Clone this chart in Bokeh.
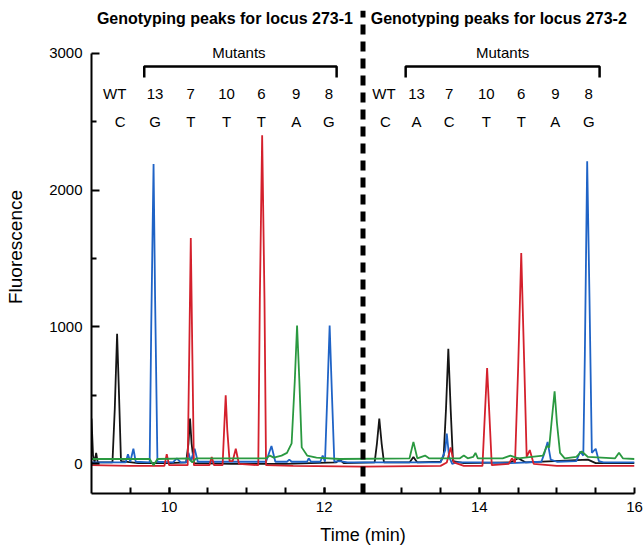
from bokeh.plotting import figure
from bokeh.models import FixedTicker
from bokeh.core.properties import value
from bokeh.embed import file_html
from bokeh.resources import INLINE

# ---------------- data ----------------
black_t = [9.00, 9.02, 9.04, 9.06, 9.08, 9.27, 9.30, 9.33, 9.355, 9.38, 9.6, 10.0, 10.22, 10.25, 10.27,
           10.29, 10.32, 10.8, 11.5, 12.15, 12.2, 12.25, 12.65, 12.68, 12.71, 12.74, 12.77, 13.1, 13.15,
           13.2, 13.5, 13.54, 13.57, 13.6, 13.63, 13.66, 13.8, 14.4, 14.5, 14.6, 15.4, 15.5, 16.0]
black_v = [330, 60, 10, 80, 10, 10, 400, 950, 500, 20, 5, 5, 10, 150, 330,
           150, 5, 0, 0, 10, 30, 5, 10, 150, 330, 150, 10, 10, 50,
           10, 15, 60, 400, 840, 400, 20, 5, 10, 40, 10, 30, 5, 5]

blue_t = [9.0, 9.44, 9.47, 9.5, 9.54, 9.57, 9.75, 9.77, 9.8, 9.82, 9.85, 10.05, 10.1, 10.15, 10.22,
          10.25, 10.28, 10.33, 10.37, 11.25, 11.32, 11.37, 11.52, 11.55, 11.58, 11.78, 11.8, 11.83,
          11.95, 11.98, 12.01, 12.04, 12.07, 12.1, 12.13, 12.2, 12.3, 13.5, 13.56, 13.58, 13.61, 13.65,
          13.7, 14.0, 14.4, 14.8, 14.84, 14.88, 14.92, 15.0, 15.25, 15.3, 15.34, 15.36, 15.39, 15.42,
          15.45, 15.5, 15.54, 15.6, 16.0]
blue_v = [10, 10, 70, 15, 110, 15, 10, 1000, 2190, 1200, 15, 10, 40, 10, 10,
          80, 20, 110, 15, 15, 130, 15, 15, 30, 15, 15, 40, 15,
          15, 60, 15, 500, 1010, 500, 15, 20, 10, 10, 100, 220, 50, 0,
          10, 10, 5, 15, 80, 160, 30, 15, 20, 90, 60, 800, 2210, 1200,
          80, 110, 20, 10, 10]

red_t = [9.0, 9.5, 9.94, 9.97, 10.0, 10.24, 10.26, 10.28, 10.30, 10.32, 10.52, 10.55, 10.58, 10.69,
         10.71, 10.73, 10.75, 10.78, 10.82, 10.86, 10.9, 11.15, 11.17, 11.2, 11.23, 11.25, 11.6, 12.5,
         13.5, 13.58, 13.63, 13.67, 13.8, 14.04, 14.07, 14.1, 14.13, 14.16, 14.38, 14.42, 14.46, 14.5,
         14.54, 14.58, 14.61, 14.65, 14.7, 15.0, 16.0]
red_v = [-10, -15, -15, 70, -10, -10, 800, 1650, 800, -10, -10, 50, -10, -10,
         250, 500, 250, 20, 20, 110, 0, -10, 1200, 2400, 1200, -10, -15, -20,
         -15, 10, 120, 10, -15, -15, 350, 700, 350, -10, 0, 40, 10, 700,
         1540, 700, 50, 100, 0, -15, -15]

green_t = [9.0, 9.75, 9.8, 9.85, 10.25, 10.3, 10.35, 11.25, 11.3, 11.35, 11.45, 11.52, 11.58, 11.62,
           11.65, 11.68, 11.71, 11.78, 11.9, 12.2, 13.1, 13.15, 13.2, 13.3, 13.35, 13.75, 13.8, 13.85,
           13.92, 13.95, 13.98, 14.3, 14.4, 14.5, 14.82, 14.87, 14.9, 14.93, 14.97, 15.0, 15.04, 15.1,
           15.25, 15.32, 15.4, 15.75, 15.8, 15.85, 16.0]
green_v = [35, 35, -10, 35, 40, 10, 40, 40, 60, 45, 60, 80, 150, 600,
           1010, 600, 120, 60, 45, 35, 40, 160, 40, 60, 40, 40, 60, 40,
           50, 80, 40, 40, 60, 40, 60, 130, 120, 300, 530, 300, 80, 40,
           50, 90, 50, 40, 80, 40, 35]

x_ticks = [10, 12, 14, 16]
x_minor = [9.5, 10, 10.5, 11, 11.5, 12, 12.5, 13, 13.5, 14, 14.5, 15, 15.5]
y_ticks = [0, 1000, 2000, 3000]
y_minor = [500, 1500, 2500]

divider_time = 12.5
titles = ["Genotyping peaks for locus 273-1", "Genotyping peaks for locus 273-2"]
title_x = [10.72, 14.25]
mutant_x = [10.9, 14.3]
bracket_start = [9.68, 13.05]
bracket_end = [12.16, 15.55]
sample_labels = ["WT", "13", "7", "10", "6", "9", "8", "WT", "13", "7", "10", "6", "9", "8"]
base_labels = ["C", "G", "T", "T", "T", "A", "G", "C", "A", "C", "T", "T", "A", "G"]
label_x = [9.30, 9.82, 10.28, 10.74, 11.19, 11.64, 12.06,
           12.77, 13.19, 13.61, 14.09, 14.54, 14.98, 15.41]
base_x = [9.37, 9.82, 10.28, 10.74, 11.19, 11.64, 12.06,
          12.79, 13.19, 13.61, 14.09, 14.54, 14.98, 15.41]

# y levels (data units) of the annotation rows
Y_TITLE = 3253
Y_MUT = 3004
Y_BRACKET = 2902
Y_BRACKET_TICK = 2822
Y_ROW1 = 2705
Y_ROW2 = 2500
Y_LOW, Y_HIGH = -217, 3385

FONT = "Liberation Sans"

p = figure(width=643, height=550, x_range=(9, 16), y_range=(Y_LOW, Y_HIGH),
           output_backend="svg", toolbar_location=None,
           min_border_left=91, min_border_right=9, min_border_top=0, min_border_bottom=57)
p.outline_line_color = None
p.xgrid.visible = False
p.ygrid.visible = False
p.background_fill_color = "white"
p.border_fill_color = "white"

# axes
xa = p.xaxis[0]
xa.ticker = FixedTicker(ticks=x_ticks, minor_ticks=x_minor)
ya = p.yaxis[0]
ya.ticker = FixedTicker(ticks=y_ticks, minor_ticks=y_minor)
ya.bounds = (Y_LOW, 3000)
for ax in (xa, ya):
    ax.axis_line_width = 2
    ax.axis_line_color = "black"
    ax.major_tick_line_width = 2
    ax.minor_tick_line_width = 2
    ax.major_tick_line_color = "black"
    ax.minor_tick_line_color = "black"
    ax.major_tick_out = 0
    ax.minor_tick_out = 0
    ax.major_label_text_font = FONT
    ax.major_label_text_font_size = "15px"
    ax.major_label_text_color = "black"
    ax.axis_label_text_font = FONT
    ax.axis_label_text_font_style = "normal"
    ax.axis_label_text_color = "black"
xa.axis_label_text_font_size = "18px"
ya.axis_label_text_font_size = "19px"
xa.major_tick_in = 6
xa.minor_tick_in = 6
ya.major_tick_in = 8
ya.minor_tick_in = 5
xa.major_label_standoff = 8
ya.major_label_standoff = 9
xa.axis_label = "Time (min)"
ya.axis_label = "Fluorescence"
xa.axis_label_standoff = 10
ya.axis_label_standoff = 20

# traces
p.line(black_t, black_v, line_color="#151515", line_width=1.8)
p.line(blue_t, blue_v, line_color="#1f63c6", line_width=1.8)
p.line(red_t, red_v, line_color="#d4202c", line_width=1.8)
p.line(green_t, green_v, line_color="#2a9940", line_width=1.8)

# divider
p.segment(x0=[divider_time], y0=[Y_LOW], x1=[divider_time], y1=[3311],
          line_color="black", line_width=5, line_dash="10 7")

# brackets
bxs = [[s, s, e, e] for s, e in zip(bracket_start, bracket_end)]
bys = [[Y_BRACKET_TICK, Y_BRACKET, Y_BRACKET, Y_BRACKET_TICK] for _ in bracket_start]
p.multi_line(bxs, bys, line_color="black", line_width=2.5)

# texts
p.text(x=title_x, y=[Y_TITLE] * 2, text=titles, text_font=value(FONT),
       text_font_size="16px", text_font_style="bold", text_align="center",
       text_baseline="middle", text_color="black")
p.text(x=mutant_x, y=[Y_MUT] * 2, text=["Mutants"] * 2, text_font=value(FONT),
       text_font_size="15px", text_align="center", text_baseline="middle", text_color="black")
p.text(x=label_x, y=[Y_ROW1] * len(label_x), text=sample_labels, text_font=value(FONT),
       text_font_size="15px", text_align="center", text_baseline="middle", text_color="black")
p.text(x=base_x, y=[Y_ROW2] * len(base_x), text=base_labels, text_font=value(FONT),
       text_font_size="15px", text_align="center", text_baseline="middle", text_color="black")

open("out.html", "w").write(file_html(p, INLINE))
